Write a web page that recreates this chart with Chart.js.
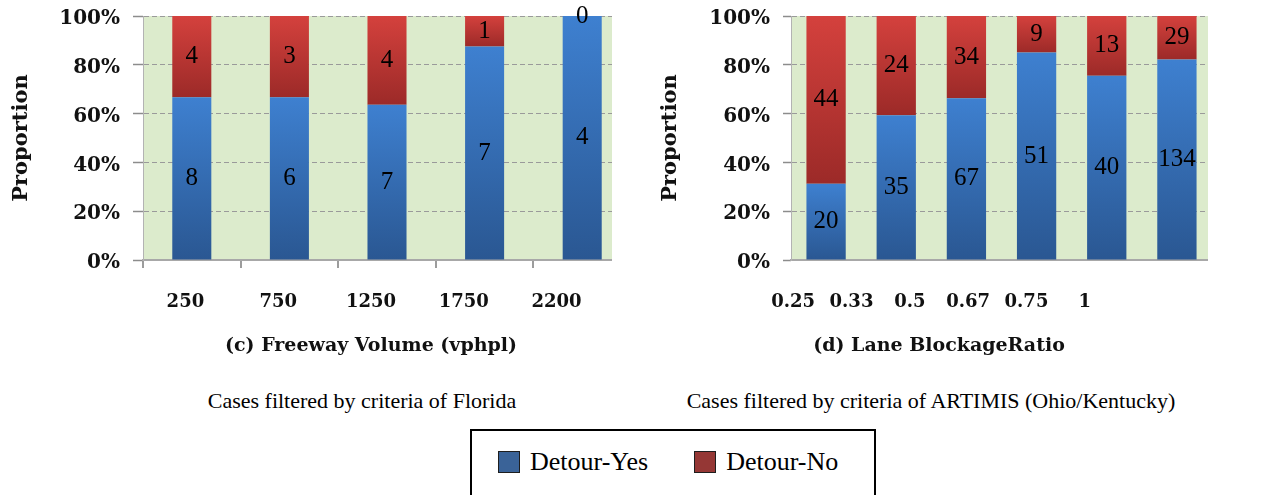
<!DOCTYPE html>
<html>
<head>
<meta charset="utf-8">
<script src="https://cdn.jsdelivr.net/npm/chart.js@4.4.1/dist/chart.umd.min.js"></script>
<style>
  html, body { margin: 0; padding: 0; background: #fff; }
  body { width: 1271px; height: 495px; position: relative; overflow: hidden; font-family: "Liberation Serif", serif; }
  .panel { position: absolute; top: 0; height: 375px; overflow: hidden; }
  #volumePanel { left: 0; width: 612px; }
  #ratioPanel { left: 635px; width: 573px; }
  .caption { position: absolute; top: 388px; font-size: 22px; line-height: 26px; color: #000; white-space: nowrap; transform: translateX(-50%); }
  #legend { position: absolute; left: 470px; top: 429px; width: 402px; height: 90px; border: 2px solid #000; }
  #legend .items { display: flex; gap: 46px; padding: 20px 0 0 26px; }
  #legend .item { display: flex; align-items: center; height: 22px; }
  #legend .swatch { width: 20px; height: 20px; border: 1px solid #1e1e1e; margin-right: 10px; }
  #legend .text { font-size: 26px; line-height: 22px; color: #000; }
</style>
</head>
<body>
<div class="panel" id="volumePanel"><canvas id="volumeChart" width="640" height="375"></canvas></div>
<div class="panel" id="ratioPanel"><canvas id="ratioChart" width="585" height="375"></canvas></div>
<div class="caption" style="left:362px">Cases filtered by criteria of Florida</div>
<div class="caption" style="left:931px">Cases filtered by criteria of ARTIMIS (Ohio/Kentucky)</div>
<div id="legend"><div class="items"></div></div>

<script>
const volumeLabels = ['250', '750', '1250', '1750', '2200'];
const volumeYes = [8, 6, 7, 7, 4];
const volumeNo = [4, 3, 4, 1, 0];

const ratioLabels = ['0.25', '0.33', '0.5', '0.67', '0.75', '1'];
const ratioYes = [20, 35, 67, 51, 40, 134];
const ratioNo = [44, 24, 34, 9, 13, 29];

const percentTicks = ['0%', '20%', '40%', '60%', '80%', '100%'];
const seriesNames = ['Detour-Yes', 'Detour-No'];
const legendColors = ['#3a6398', '#953735'];

const axisFont = '"DejaVu Serif", serif';

// share of each bar, in percent
function share(part, other) {
  return part.map((v, i) => 100 * v / (v + other[i]));
}

// light-to-dark fill for each stacked segment
function segmentFill(c, light, dark) {
  const chart = c.chart;
  const y = chart.scales.y;
  if (!chart.chartArea || !y) return dark;
  const ds = chart.data.datasets;
  let start = 0;
  for (let k = 0; k < c.datasetIndex; k++) start += ds[k].data[c.dataIndex];
  const end = start + ds[c.datasetIndex].data[c.dataIndex];
  const top = y.getPixelForValue(end);
  const bottom = Math.max(y.getPixelForValue(start), top + 1);
  const g = chart.ctx.createLinearGradient(0, top, 0, bottom);
  g.addColorStop(0, light);
  g.addColorStop(1, dark);
  return g;
}

const plotBackground = {
  id: 'plotBackground',
  beforeDraw(chart, args, opts) {
    const { ctx, chartArea: a } = chart;
    ctx.save();
    ctx.fillStyle = opts.color;
    ctx.fillRect(a.left, a.top, a.width, a.height);
    ctx.restore();
  }
};

// the label row under the plot is not aligned with the bars in the original,
// so the label axis gets its own horizontal extent
const labelRow = {
  id: 'labelRow',
  afterLayout(chart, args, opts) {
    const s = chart.scales.xl;
    if (!s) return;
    s.left = opts.left;
    s.right = opts.right;
    s.width = opts.right - opts.left;
    s.configure();
  }
};

const countLabels = {
  id: 'countLabels',
  afterDatasetsDraw(chart, args, opts) {
    const ctx = chart.ctx;
    ctx.save();
    ctx.font = '25px "Liberation Serif", serif';
    ctx.fillStyle = '#000';
    ctx.textAlign = 'center';
    ctx.textBaseline = 'middle';
    chart.data.datasets.forEach((ds, di) => {
      chart.getDatasetMeta(di).data.forEach((bar, i) => {
        const p = bar.getCenterPoint();
        ctx.fillText(String(opts.counts[di][i]), p.x, p.y);
      });
    });
    ctx.restore();
  }
};

function makeChart(id, labels, yes, no, cfg) {
  return new Chart(document.getElementById(id), {
    type: 'bar',
    data: {
      labels: labels,
      datasets: [
        {
          label: seriesNames[0],
          data: share(yes, no),
          backgroundColor: c => segmentFill(c, '#3e80d0', '#2a5792'),
          barPercentage: cfg.barPct,
          categoryPercentage: 1,
          xAxisID: 'x',
          yAxisID: 'y'
        },
        {
          label: seriesNames[1],
          data: share(no, yes),
          backgroundColor: c => segmentFill(c, '#d4413d', '#9c2a28'),
          barPercentage: cfg.barPct,
          categoryPercentage: 1,
          xAxisID: 'x',
          yAxisID: 'y'
        }
      ]
    },
    options: {
      responsive: false,
      devicePixelRatio: 1,
      animation: false,
      events: [],
      layout: { padding: { top: 16, right: cfg.padRight, left: 0, bottom: 0 } },
      plugins: {
        legend: { display: false },
        tooltip: { enabled: false },
        plotBackground: { color: '#dcebcc' },
        labelRow: { left: cfg.rowLeft, right: cfg.rowRight },
        countLabels: { counts: [yes, no] }
      },
      scales: {
        x: {
          type: 'category',
          stacked: true,
          offset: true,
          weight: 0,
          grid: {
            display: cfg.xTickLength > 0,
            drawOnChartArea: false,
            drawTicks: true,
            tickLength: cfg.xTickLength,
            offset: true,
            color: '#9c9c9c',
            lineWidth: 2
          },
          border: { display: true, color: '#a8a8a8', width: 2 },
          ticks: { display: false },
          afterFit: s => { s.height = 10; }
        },
        xl: {
          type: 'category',
          position: 'bottom',
          weight: 1,
          offset: true,
          grid: { display: false, offset: true },
          border: { display: false },
          ticks: {
            autoSkip: false,
            maxRotation: 0,
            padding: 14,
            color: '#111',
            font: { family: axisFont, size: 18, weight: 'bold' }
          },
          title: {
            display: true,
            text: cfg.title,
            color: '#111',
            font: { family: axisFont, size: 19, weight: 'bold' },
            padding: { top: 0, bottom: 18 }
          },
          afterFit: s => { s.height = 105; }
        },
        y: {
          stacked: true,
          min: 0,
          max: 100,
          ticks: {
            stepSize: 20,
            padding: 13,
            labelOffset: 3,
            color: '#111',
            font: { family: axisFont, size: 20, weight: 'bold' },
            callback: v => percentTicks[Math.round(v / 20)]
          },
          grid: {
            color: c => (c.tick && c.tick.value === 0) ? 'rgba(0,0,0,0)' : '#9a9a9a',
            tickColor: '#8c8c8c',
            tickLength: cfg.yTickLength,
            tickWidth: 1.5,
            lineWidth: 1
          },
          border: { display: true, color: '#b3b3b3', width: 1, dash: [5, 3] },
          title: {
            display: true,
            text: 'Proportion',
            color: '#111',
            font: { family: axisFont, size: 21, weight: 'bold' },
            padding: { top: cfg.yTitlePad, bottom: 0 }
          },
          afterFit: s => {
            s.width = cfg.yWidth;
            s.paddingTop = 0;
            s.paddingBottom = 0;
          }
        }
      }
    },
    plugins: [plotBackground, labelRow, countLabels]
  });
}

makeChart('volumeChart', volumeLabels, volumeYes, volumeNo, {
  title: '(c) Freeway Volume (vphpl)',
  barPct: 0.4,
  padRight: 9,
  yWidth: 143,
  yTickLength: 10,
  yTitlePad: 9,
  xTickLength: 8,
  rowLeft: 139,
  rowRight: 603
});

makeChart('ratioChart', ratioLabels, ratioYes, ratioNo, {
  title: '(d) Lane BlockageRatio',
  barPct: 0.56,
  padRight: 8,
  yWidth: 156,
  yTickLength: 8,
  yTitlePad: 23,
  xTickLength: 0,
  rowLeft: 129,
  rowRight: 479
});

// shared legend under both panels
const legendItems = document.querySelector('#legend .items');
seriesNames.forEach((name, i) => {
  const item = document.createElement('div');
  item.className = 'item';
  const sw = document.createElement('span');
  sw.className = 'swatch';
  sw.style.background = legendColors[i];
  const tx = document.createElement('span');
  tx.className = 'text';
  tx.textContent = name;
  item.appendChild(sw);
  item.appendChild(tx);
  legendItems.appendChild(item);
});
</script>
</body>
</html>
